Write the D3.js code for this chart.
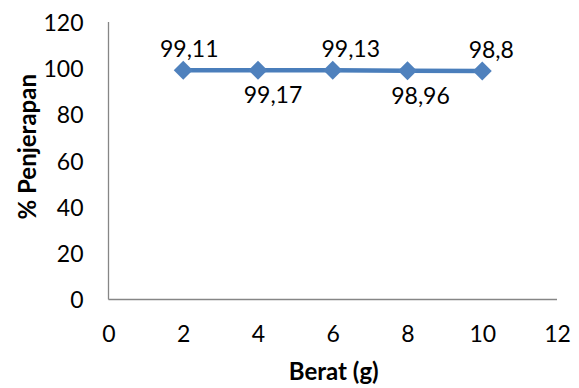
<!DOCTYPE html>
<html>
<head>
<meta charset="utf-8">
<script src="https://cdn.jsdelivr.net/npm/d3@7"></script>
<style>
  html, body { margin: 0; padding: 0; background: #fff; }
  svg { display: block; }
  text { font-family: Lato, "Open Sans", sans-serif; fill: #000; }
</style>
</head>
<body>
<svg id="chart" width="579" height="388"></svg>
<script>
// ---- data ----
const beratValues = [2, 4, 6, 8, 10];
const penjerapanValues = [99.11, 99.17, 99.13, 98.96, 98.8];
const pointLabels = ["99,11", "99,17", "99,13", "98,96", "98,8"];
const xTickValues = [0, 2, 4, 6, 8, 10, 12];
const yTickValues = [0, 20, 40, 60, 80, 100, 120];
const xTitle = "Berat (g)";
const yTitle = "% Penjerapan";

// ---- layout ----
const plotLeft = 108.5, plotRight = 557, plotTop = 22, plotBottom = 299.5;
const labelAbove = [true, false, true, false, true];
const labelDx = [6, 15, 18, 13, 9];
const axisColor = "#868686";
const lineColor = "#4A7EBB";
const markerColor = "#4F81BD";
const fontSize = 23;
const titleSize = 24;

const svg = d3.select("#chart");
const x = d3.scaleLinear().domain([0, 12]).range([plotLeft, plotRight]);
const y = d3.scaleLinear().domain([0, 120]).range([plotBottom, plotTop]);

// axes (no tick marks)
const xAxis = svg.append("g").attr("transform", `translate(0,${plotBottom})`)
  .call(d3.axisBottom(x).tickValues(xTickValues).tickSize(0).tickPadding(0).tickFormat(d3.format("d")));
xAxis.select(".domain").attr("stroke", axisColor).attr("stroke-width", 1.3).attr("d", `M${plotLeft},0H${plotRight}`);
xAxis.selectAll("text").attr("font-size", fontSize).attr("font-family", "Lato")
  .attr("y", 42).attr("dy", 0).attr("fill", "#000");

const yAxis = svg.append("g").attr("transform", `translate(${plotLeft},0)`)
  .call(d3.axisLeft(y).tickValues(yTickValues).tickSize(0).tickPadding(0).tickFormat(d3.format("d")));
yAxis.select(".domain").attr("stroke", axisColor).attr("stroke-width", 1.3).attr("d", `M0,${plotTop}V${plotBottom}`);
yAxis.selectAll("text").attr("font-size", fontSize).attr("font-family", "Lato")
  .attr("x", -25).attr("dy", "0.36em").attr("fill", "#000");

// line
const pts = beratValues.map((b, i) => ({ b, v: penjerapanValues[i], lab: pointLabels[i], i }));
svg.append("path").datum(pts)
  .attr("fill", "none").attr("stroke", lineColor).attr("stroke-width", 4.5)
  .attr("stroke-linejoin", "round")
  .attr("d", d3.line().x(d => x(d.b)).y(d => y(d.v)));

// markers
svg.selectAll("path.m").data(pts).join("path")
  .attr("class", "m")
  .attr("d", d3.symbol().type(d3.symbolSquare).size(180))
  .attr("transform", d => `translate(${x(d.b)},${y(d.v)}) rotate(45)`)
  .attr("fill", markerColor);

// data labels
svg.selectAll("text.lab").data(pts).join("text")
  .attr("class", "lab")
  .attr("x", d => x(d.b) + labelDx[d.i])
  .attr("y", d => labelAbove[d.i] ? y(d.v) - 13 : y(d.v) + 33)
  .attr("text-anchor", "middle")
  .attr("font-size", fontSize)
  .text(d => d.lab);

// titles
svg.append("text").attr("x", (plotLeft + plotRight) / 2 + 1).attr("y", 380)
  .attr("text-anchor", "middle").attr("font-size", titleSize).attr("font-weight", "bold")
  .text(xTitle);
svg.append("text").attr("transform", `translate(36,${(plotTop + plotBottom) / 2 - 14}) rotate(-90)`)
  .attr("text-anchor", "middle").attr("font-size", titleSize).attr("font-weight", "bold")
  .text(yTitle);
</script>
</body>
</html>
